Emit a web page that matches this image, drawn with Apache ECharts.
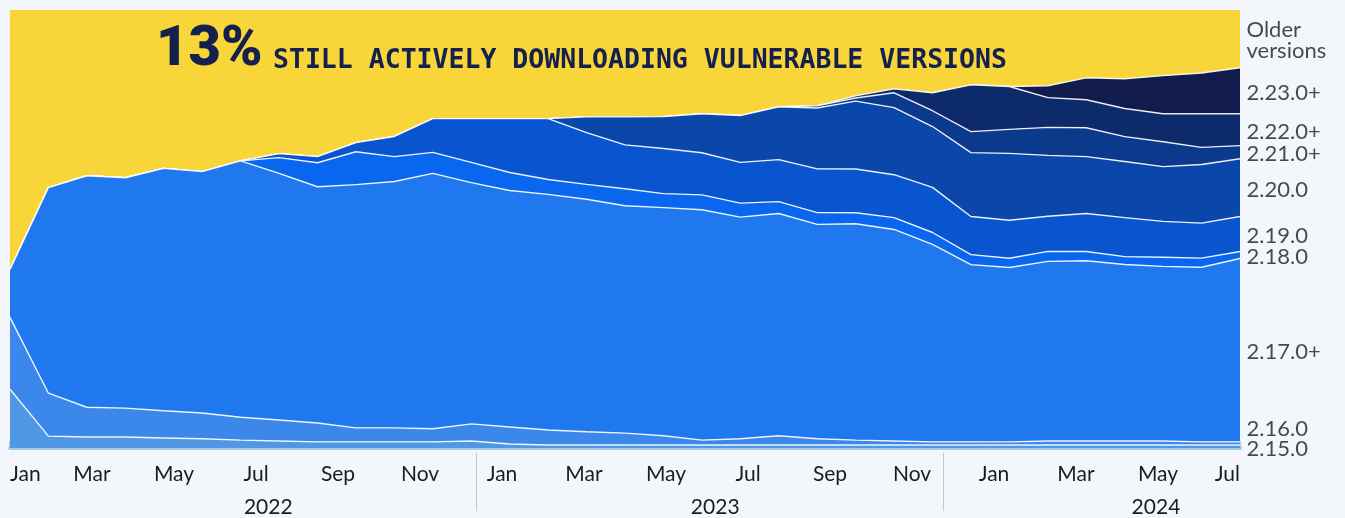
<!DOCTYPE html>
<html>
<head>
<meta charset="utf-8">
<title>Log4j versions still downloaded</title>
<script src="https://cdn.jsdelivr.net/npm/echarts@6/dist/echarts.min.js"></script>
<style>
    html, body { margin: 0; padding: 0; background: #f3f7fb; }
    #chart { width: 1345px; height: 518px; }
</style>
</head>
<body>
<div id="chart"></div>
<script>
// snapshots, in months since Jan 2022 (about every 4 weeks, evenly spaced)
var sampleMonths = ['0', '0.94', '1.88', '2.81', '3.75', '4.69', '5.63', '6.56', '7.5', '8.44',
    '9.38', '10.31', '11.25', '12.19', '13.13', '14.06', '15', '15.94', '16.88', '17.81', '18.75',
    '19.69', '20.63', '21.56', '22.5', '23.44', '24.38', '25.31', '26.25', '27.19', '28.13',
    '29.06', '30'];

var monthNames = ['Jan', 'Feb', 'Mar', 'Apr', 'May', 'Jun', 'Jul', 'Aug', 'Sep', 'Oct', 'Nov', 'Dec'];
var yearNames = ['2022', '2023', '2024'];
var yearCentres = [6.3, 17.2, 27.95];
var yearBreaks = [11.36, 22.76];

// share of downloads per version (%), bottom of the stack first
var v2150 = [13.4, 2.7, 2.5, 2.5, 2.3, 2.1, 1.8, 1.6, 1.4, 1.4, 1.4, 1.4, 1.6, 0.9, 0.7, 0.7, 0.7,
    0.7, 0.7, 0.7, 0.7, 0.7, 0.7, 0.7, 0.7, 0.7, 0.7, 0.7, 0.7, 0.7, 0.7, 0.7, 0.7];
var v2160 = [16.4, 9.8, 6.8, 6.6, 6.2, 5.9, 5.2, 4.8, 4.3, 3.2, 3.2, 3.0, 3.9, 3.9, 3.4, 3.0, 2.7,
    2.1, 1.1, 1.4, 2.1, 1.4, 1.1, 0.9, 0.7, 0.7, 0.7, 0.9, 0.9, 0.9, 0.9, 0.7, 0.7];
var v2170 = [10.9, 46.9, 52.8, 52.6, 55.4, 55.1, 58.5, 56.3, 54.0, 55.6, 56.3, 58.3, 55.1, 54.0,
    53.8, 53.1, 51.9, 52.2, 52.6, 50.6, 50.8, 49.0, 49.4, 48.3, 45.1, 40.5, 39.9, 41.0, 41.2,
    40.3, 39.9, 39.9, 41.9];
var v2180 = [0, 0, 0, 0, 0, 0, 0, 3.6, 5.5, 7.5, 5.7, 4.8, 4.6, 4.1, 3.4, 3.4, 3.9, 3.2, 3.4, 3.2,
    2.7, 2.7, 2.5, 2.7, 2.7, 2.3, 2.1, 2.3, 2.1, 1.8, 2.1, 2.1, 1.6];
var v2190 = [0, 0, 0, 0, 0, 0, 0, 0.9, 1.4, 2.1, 4.6, 7.7, 10.0, 12.3, 13.9, 11.8, 10.0, 10.3, 9.6,
    9.3, 9.6, 10.0, 10.0, 9.8, 10.3, 8.7, 8.7, 8.0, 8.7, 8.9, 8.2, 8.0, 8.0];
var v2200 = [0, 0, 0, 0, 0, 0, 0, 0, 0, 0, 0, 0, 0, 0, 0, 3.6, 6.4, 7.3, 8.9, 10.7, 12.1, 13.9,
    15.5, 15.3, 13.9, 14.6, 15.3, 13.9, 13.0, 12.8, 12.5, 13.4, 13.2];
var v2210 = [0, 0, 0, 0, 0, 0, 0, 0, 0, 0, 0, 0, 0, 0, 0, 0, 0, 0, 0, 0, 0, 0.5, 0.7, 3.4, 3.6,
    4.8, 5.5, 6.4, 6.6, 5.7, 5.7, 3.9, 3.0];
var v2220 = [0, 0, 0, 0, 0, 0, 0, 0, 0, 0, 0, 0, 0, 0, 0, 0, 0, 0, 0, 0, 0, 0, 0.5, 0.9, 4.1,
    10.7, 9.8, 6.8, 6.4, 6.4, 6.4, 7.7, 7.3];
var v2230 = [0, 0, 0, 0, 0, 0, 0, 0, 0, 0, 0, 0, 0, 0, 0, 0, 0, 0, 0, 0, 0, 0, 0, 0, 0, 0, 0,
    2.7, 5.0, 6.8, 8.7, 9.3, 10.5];
var vOlder = [59.2, 40.5, 37.8, 38.3, 36.2, 36.9, 34.4, 32.8, 33.5, 30.3, 28.9, 24.8, 24.8, 24.8,
    24.8, 24.4, 24.4, 24.4, 23.7, 24.1, 22.1, 21.9, 19.6, 18.0, 18.9, 17.1, 17.5, 17.3, 15.5,
    15.7, 15.0, 14.4, 13.2];

var layerNames = ['2.15.0', '2.16.0', '2.17.0+', '2.18.0', '2.19.0', '2.20.0', '2.21.0+',
    '2.22.0+', '2.23.0+', 'Older\nversions'];
var layerValues = [v2150, v2160, v2170, v2180, v2190, v2200, v2210, v2220, v2230, vOlder];

var layerColors = ['#5097e6', '#3b88ea', '#1f78ee', '#0866ef', '#0955cf', '#0b47ab', '#0b3a8d',
    '#0d2a6b', '#121c4c', '#f8d639'];

window.onload = function () {
    draw_chart();
};

function draw_chart() {
    var myChart = echarts.init(document.getElementById('chart'));

    // each snapshot is stacked to 100%
    var totals = sampleMonths.map(function (m, i) {
        var s = 0;
        layerValues.forEach(function (vals) { s += vals[i]; });
        return s;
    });
    function share(vals, i) {
        return vals[i] / totals[i] * 100;
    }

    var series = layerValues.map(function (vals, k) {
        var isTop = k === layerValues.length - 1;
        return {
            name: layerNames[k],
            type: 'line',
            stack: 'versions',
            symbol: 'none',
            silent: true,
            xAxisIndex: 0,
            // lower layers on top so their white edge is not half covered
            z: 2 + layerValues.length - k,
            lineStyle: { color: '#ffffff', width: isTop ? 0 : 1.4, opacity: 0.9 },
            areaStyle: { color: layerColors[k], opacity: 1 },
            data: sampleMonths.map(function (m, i) { return share(vals, i); })
        };
    });

    // labels at the right, in the middle of each band at the last snapshot,
    // pushed up when they would overlap the one below
    var last = sampleMonths.length - 1;
    var below = 0;
    var prev = -100;
    var minGap = 4.5;
    var labelData = layerValues.map(function (vals, k) {
        var v = share(vals, last);
        var y = Math.max(below + v / 2, prev + minGap);
        below += v;
        prev = y;
        return { name: layerNames[k], value: [last, y] };
    });
    series.push({
        type: 'scatter',
        xAxisIndex: 0,
        symbolSize: 1,
        silent: true,
        z: 30,
        itemStyle: { color: 'rgba(0,0,0,0)' },
        label: {
            show: true,
            position: 'right',
            distance: 6,
            offset: [0, 2],
            formatter: '{b}',
            color: '#1c1c1c',
            fontFamily: 'Lato',
            fontSize: 22,
            lineHeight: 21
        },
        data: labelData
    });

    var option = {
        backgroundColor: '#f3f7fb',
        animation: false,
        title: [
            {
                text: '13%',
                left: 156,
                top: 23,
                padding: 0,
                textStyle: { fontFamily: 'Roboto', fontWeight: 900, fontSize: 56, color: '#14204e' }
            },
            {
                text: 'STILL ACTIVELY DOWNLOADING VULNERABLE VERSIONS',
                left: 273,
                top: 48,
                padding: 0,
                textStyle: { fontFamily: 'DejaVu Sans Mono', fontWeight: 'bold', fontSize: 26.5, color: '#14204e' }
            }
        ],
        grid: { left: 10, right: 105, top: 10, bottom: 69 },
        xAxis: [
            {
                // the snapshots themselves
                type: 'category',
                data: sampleMonths,
                boundaryGap: false,
                show: false
            },
            {
                // months since Jan 2022, a tick every second month
                type: 'value',
                min: 0,
                max: 30,
                interval: 2,
                position: 'bottom',
                z: 10,
                axisLine: { show: true, lineStyle: { color: '#a0cdea', width: 4 } },
                axisTick: { show: true, inside: true, length: 7, lineStyle: { color: '#b9b9b9', width: 1.5 } },
                axisLabel: {
                    formatter: function (v) { return monthNames[v % 12]; },
                    color: '#1c1c1c',
                    fontFamily: 'Lato',
                    fontSize: 21,
                    margin: 16,
                    alignMinLabel: 'left',
                    alignMaxLabel: 'right'
                },
                splitLine: { show: false }
            },
            {
                type: 'value',
                min: 0,
                max: 30,
                position: 'bottom',
                offset: 5,
                axisLine: { show: false },
                axisTick: { show: true, customValues: yearBreaks, length: 58, lineStyle: { color: '#c9c9c9', width: 1 } },
                axisLabel: {
                    customValues: yearCentres,
                    formatter: function (v) {
                        var best = 0;
                        yearCentres.forEach(function (c, j) {
                            if (Math.abs(c - v) < Math.abs(yearCentres[best] - v)) best = j;
                        });
                        return yearNames[best];
                    },
                    color: '#1c1c1c',
                    fontFamily: 'Lato',
                    fontSize: 21,
                    margin: 44
                },
                splitLine: { show: false }
            }
        ],
        yAxis: {
            type: 'value',
            min: 0,
            max: 100,
            show: false,
            splitLine: { show: false }
        },
        series: series
    };

    myChart.setOption(option);
}
</script>
</body>
</html>
